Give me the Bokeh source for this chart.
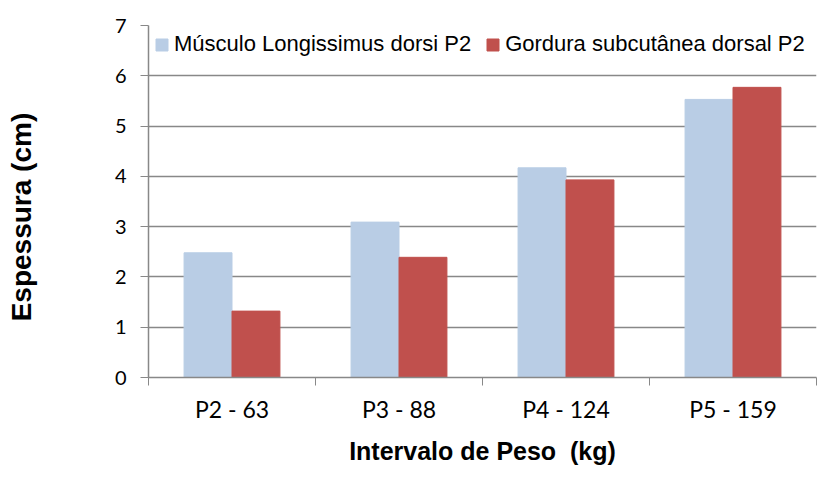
from bokeh.plotting import figure
from bokeh.models import ColumnDataSource, FixedTicker, Range1d, Legend, LegendItem
from bokeh.transform import dodge
from bokeh.embed import file_html
from bokeh.resources import INLINE

categories = ["P2 - 63", "P3 - 88", "P4 - 124", "P5 - 159"]
musculo = [2.48, 3.09, 4.17, 5.53]
gordura = [1.32, 2.39, 3.93, 5.77]
series_names = ["Músculo Longissimus dorsi P2", "Gordura subcutânea dorsal P2"]
y_ticks = [0, 1, 2, 3, 4, 5, 6, 7]
x_title = "Intervalo de Peso\u00a0\u00a0(kg)"
y_title = "Espessura (cm)"

centers = [i + 0.5 for i in range(len(categories))]
src = ColumnDataSource(dict(x=centers, m=musculo, g=gordura))

p = figure(width=827, height=502, frame_width=668, frame_height=352,
           output_backend="svg", toolbar_location=None,
           x_range=Range1d(0, len(categories)), y_range=Range1d(0, 7),
           min_border_left=148, min_border_right=11, min_border_top=25,
           min_border_bottom=0)
p.outline_line_color = None

bw = 0.287
r1 = p.vbar(x=dodge("x", -bw / 2, range=p.x_range), top="m", width=bw, source=src,
            fill_color="#B9CDE5", line_color="#B9CDE5")
r2 = p.vbar(x=dodge("x", bw / 2, range=p.x_range), top="g", width=bw, source=src,
            fill_color="#C0504D", line_color="#C0504D")

p.xgrid.grid_line_color = None
p.ygrid.grid_line_color = "#888888"
p.ygrid.grid_line_width = 1.6

xa = p.xaxis[0]
xa.ticker = FixedTicker(ticks=centers, minor_ticks=list(range(len(categories) + 1)))
xa.major_label_overrides = {c: lab for c, lab in zip(centers, categories)}
xa.major_tick_out = 0
xa.major_tick_in = 0
xa.minor_tick_out = 8
xa.minor_tick_in = 0
xa.minor_tick_line_color = "#888888"
xa.axis_line_color = "#888888"
xa.axis_line_width = 1.5
xa.major_label_text_font = "Lato"
xa.major_label_text_font_size = "23px"
xa.major_label_text_color = "#000000"
xa.major_label_standoff = 9
xa.axis_label = x_title
xa.axis_label_text_font = "Liberation Sans"
xa.axis_label_text_font_style = "bold"
xa.axis_label_text_font_size = "25px"
xa.axis_label_text_color = "#000000"
xa.axis_label_standoff = 11

ya = p.yaxis[0]
ya.ticker = FixedTicker(ticks=y_ticks)
ya.major_tick_out = 8
ya.major_tick_in = 0
ya.minor_tick_out = 0
ya.minor_tick_in = 0
ya.major_tick_line_color = "#888888"
ya.axis_line_color = "#888888"
ya.axis_line_width = 1.5
ya.major_label_text_font = "Lato"
ya.major_label_text_font_size = "20px"
ya.major_label_text_color = "#000000"
ya.major_label_standoff = 14
ya.axis_label = y_title + "\u00a0" * 4
ya.axis_label_text_font = "Liberation Sans"
ya.axis_label_text_font_style = "bold"
ya.axis_label_text_font_size = "28px"
ya.axis_label_text_color = "#000000"
ya.axis_label_standoff = 75

legend = Legend(items=[LegendItem(label=series_names[0], renderers=[r1]),
                       LegendItem(label=series_names[1], renderers=[r2])],
                orientation="horizontal", location="top_left",
                border_line_color=None, background_fill_alpha=0,
                padding=0, margin=6, spacing=14, glyph_width=15, glyph_height=15,
                label_height=26, label_standoff=5, label_text_font="Liberation Sans",
                label_text_font_size="22px", label_text_color="#000000")
p.add_layout(legend, "center")

open("out.html", "w").write(file_html(p, INLINE))
